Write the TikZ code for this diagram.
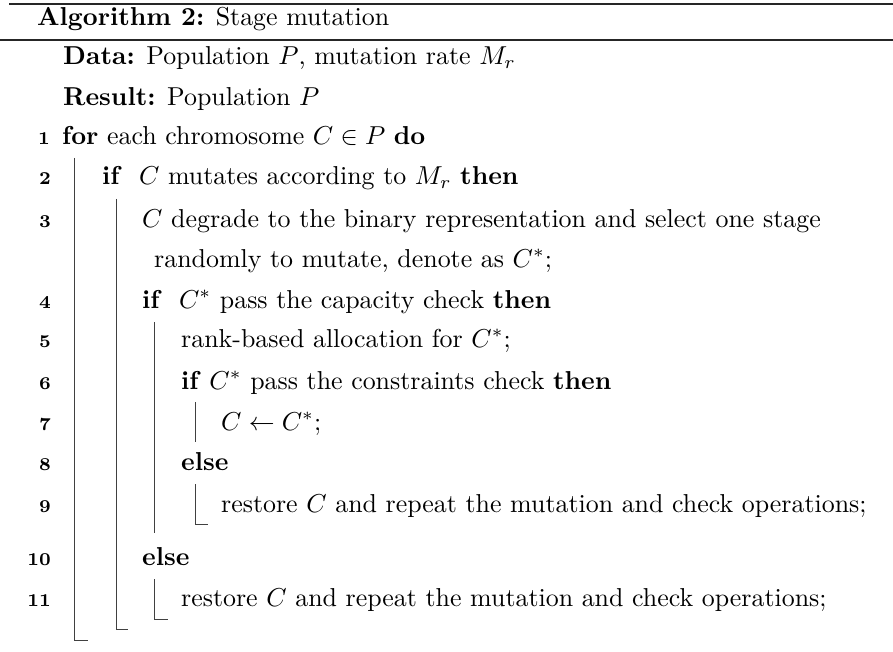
\documentclass[tikz,border=0pt]{standalone}
\usepackage{graphicx}
\newcommand\myscl[1]{\scalebox{2.59}{#1}}
\begin{document}
\begin{tikzpicture}[x=1pt,y=-1pt,
  txt/.style={anchor=base west,inner sep=0pt,font=\fontsize{10}{12}\selectfont},
  num/.style={anchor=base east,inner sep=0pt,font=\scriptsize\bfseries},
  rule/.style={line width=2pt,black!85},
  bar/.style={line width=1pt,black!75}]
\useasboundingbox (0,0) rectangle (893,652);
\draw[rule] (9,4) -- (893,4);
\draw[rule] (0,40) -- (893,40);
\node[txt] (title) at (37,26) {\myscl{\textbf{Algorithm 2:} Stage mutation}};
\node[txt] (data) at (63,65) {\myscl{\textbf{Data:} Population $P$, mutation rate $M_r$}};
\node[txt] (res) at (63,106) {\myscl{\textbf{Result:} Population $P$}};
\node[num] (n1) at (50,145) {\myscl{1}};
\node[txt] (l1) at (62,145) {\myscl{\textbf{for} each chromosome $C\in P$ \textbf{do}}};
\node[num] (n2) at (51,185) {\myscl{2}};
\node[txt] (l2) at (102,185) {\myscl{\textbf{if}\ \ $C$ mutates according to $M_r$ \textbf{then}}};
\node[num] (n3) at (51,227) {\myscl{3}};
\node[txt] (l3) at (142,227) {\myscl{$C$ degrade to the binary representation and select one stage}};
\node[txt] (l3b) at (154,267) {\myscl{randomly to mutate, denote as $C^*$;}};
\node[num] (n4) at (51,308) {\myscl{4}};
\node[txt] (l4) at (142,308) {\myscl{\textbf{if}\ \ $C^*$ pass the capacity check \textbf{then}}};
\node[num] (n5) at (51,347) {\myscl{5}};
\node[txt] (l5) at (181,347) {\myscl{rank-based allocation for $C^*$;}};
\node[num] (n6) at (51,389) {\myscl{6}};
\node[txt] (l6) at (181,389) {\myscl{\textbf{if} $C^*$ pass the constraints check \textbf{then}}};
\node[num] (n7) at (51,430) {\myscl{7}};
\node[txt] (l7) at (221,430) {\myscl{$C \leftarrow C^*$;}};
\node[num] (n8) at (51,470) {\myscl{8}};
\node[txt] (l8) at (181,470) {\myscl{\textbf{else}}};
\node[num] (n9) at (51,512) {\myscl{9}};
\node[txt] (l9) at (221,512) {\myscl{restore $C$ and repeat the mutation and check operations;}};
\node[num] (n10) at (51,565) {\myscl{10}};
\node[txt] (l10) at (142,565) {\myscl{\textbf{else}}};
\node[num] (n11) at (51,606) {\myscl{11}};
\node[txt] (l11) at (181,606) {\myscl{restore $C$ and repeat the mutation and check operations;}};
% block bars
\draw[bar] (74,158) -- (74,640) -- (88,640);
\draw[bar] (116,199) -- (116,629) -- (128,629);
\draw[bar] (154,322) -- (154,533);
\draw[bar] (195,402) -- (195,442);
\draw[bar] (195,484) -- (195,524) -- (208,524);
\draw[bar] (154,579) -- (154,619) -- (168,619);
\end{tikzpicture}
\end{document}
